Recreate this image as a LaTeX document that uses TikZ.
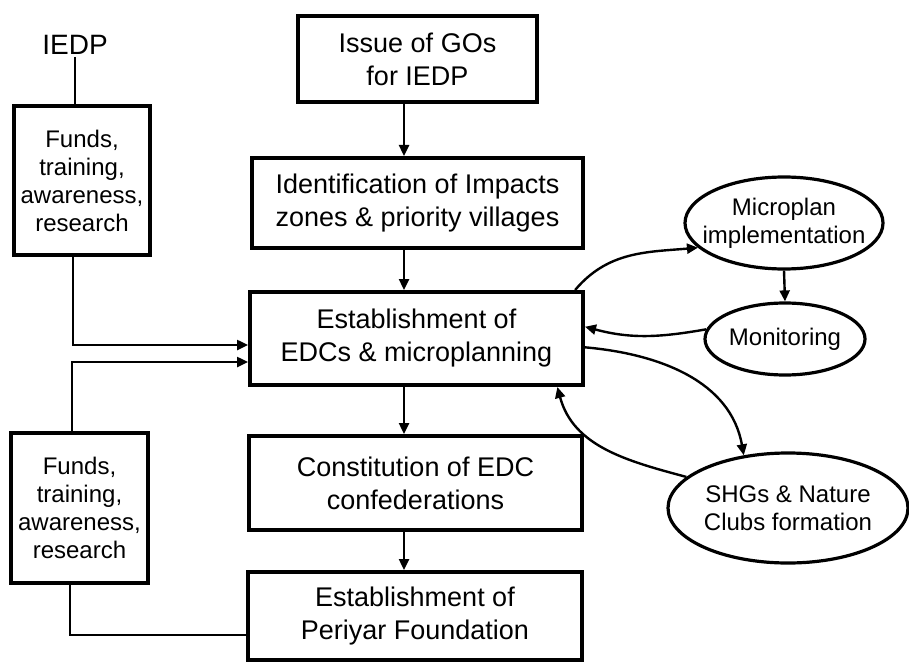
\documentclass[tikz,border=0pt]{standalone}
\usepackage{fontspec}
\setmainfont{Liberation Sans}
\usetikzlibrary{arrows.meta,shapes.geometric,calc}
\begin{document}
\begin{tikzpicture}[x=1pt,y=1pt,
  mainbox/.style={draw, line width=4pt, align=center, inner sep=0pt, font=\fontsize{27}{33}\selectfont},
  sidebox/.style={draw, line width=4pt, align=center, inner sep=0pt, font=\fontsize{24}{28}\selectfont},
  ellbox/.style={draw, ellipse, line width=3.2pt, inner sep=0pt},
  elltext/.style={align=center, inner sep=0pt, font=\fontsize{24}{28}\selectfont},
  plain/.style={line width=2.4pt},
  arr/.style={line width=2.4pt, -{Triangle[length=11pt,width=10pt]}}]
\useasboundingbox (0,0) rectangle (909,-663);

% main column
\node[mainbox, minimum width=239pt, minimum height=86pt] (issue) at (417.5,-59) {Issue of GOs\\for IEDP};
\node[mainbox, minimum width=331pt, minimum height=90pt] (ident) at (417.5,-203) {Identification of Impacts\\zones \& priority villages};
\node[mainbox, minimum width=333pt, minimum height=93pt] (estab) at (416.5,-338.5) {Establishment of\\EDCs \& microplanning};
\node[mainbox, minimum width=333pt, minimum height=94pt] (const) at (415.5,-483) {Constitution of EDC\\confederations};
\node[mainbox, minimum width=334pt, minimum height=88pt] (peri) at (415,-616) {Establishment of\\Periyar Foundation};

% left side
\node[font=\fontsize{28}{33}\selectfont, inner sep=2pt] (iedp) at (75,-45) {IEDP};
\node[sidebox, minimum width=136pt, minimum height=149pt] (f1) at (82,-180.5) {Funds,\\training,\\awareness,\\research};
\node[sidebox, minimum width=137pt, minimum height=150pt] (f2) at (79.5,-508) {Funds,\\training,\\awareness,\\research};

% ellipses
\node[ellbox, minimum width=198pt, minimum height=92pt] (micro) at (784,-223) {};
\node[elltext] (microt) at (micro) {Microplan\\implementation};
\node[ellbox, minimum width=160pt, minimum height=72pt] (monit) at (785,-339) {};
\node[elltext] (monitt) at (monit) {Monitoring};
\node[ellbox, minimum width=240pt, minimum height=110pt] (shg) at (788,-508) {};
\node[elltext] (shgt) at (shg) {SHGs \& Nature\\Clubs formation};

% helper coordinates
\coordinate (cx) at (404,0);
\coordinate (c1) at (73,0);
\coordinate (c2) at (72,0);
\coordinate (c3) at (70,0);
\coordinate (y1) at (0,-345);
\coordinate (y2) at (0,-362);
\coordinate (y3) at (0,-635);

% main column arrows
\draw[arr] (issue.south -| cx) -- (ident.north -| cx);
\draw[arr] (ident.south -| cx) -- (estab.north -| cx);
\draw[arr] (estab.south -| cx) -- (const.north -| cx);
\draw[arr] (const.south -| cx) -- (peri.north -| cx);

% left connectors
\draw[plain] (iedp.south) -- (iedp.south |- f1.north);
\draw[arr] (f1.south -| c1) |- (estab.west |- y1);
\draw[arr] (f2.north -| c2) |- (estab.west |- y2);
\draw[plain] (f2.south -| c3) |- (peri.west |- y3);

% right connectors
\draw[arr] (estab.17) to[out=50,in=185] (micro.196);
\draw[arr] (micro.south) -- (monit.north);
\draw[arr] (monit.173) to[out=190,in=-15] (estab.4);
\draw[arr] (estab.-3) to[out=-5,in=100] (shg.130);
\draw[arr] (shg.163) to[out=165,in=-75] (estab.-19);
\end{tikzpicture}
\end{document}
